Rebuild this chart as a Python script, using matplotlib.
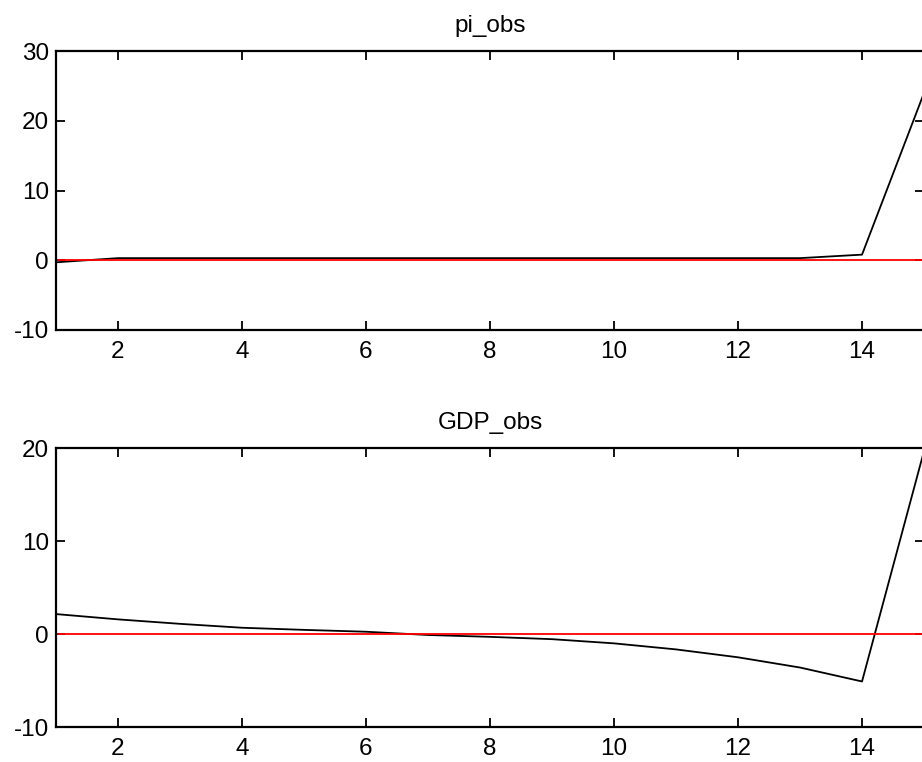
import matplotlib.pyplot as plt

# periods and observed series
periods = list(range(1, 16))
pi_obs = [-0.3, 0.3, 0.3, 0.3, 0.3, 0.3, 0.3, 0.3, 0.3, 0.3, 0.3, 0.3, 0.3, 0.8, 24.0]
gdp_obs = [2.15, 1.58, 1.1, 0.68, 0.45, 0.25, -0.1, -0.3, -0.55, -1.0, -1.65, -2.5, -3.6, -5.1, 19.7]

titles = ['pi_obs', 'GDP_obs']
series = [pi_obs, gdp_obs]
ylims = [(-10, 30), (-10, 20)]
yticks = [[-10, 0, 10, 20, 30], [-10, 0, 10, 20]]
xticks = [2, 4, 6, 8, 10, 12, 14]

plt.rcParams['font.family'] = ['Liberation Sans', 'DejaVu Sans']
plt.rcParams['axes.unicode_minus'] = False

fig = plt.figure(figsize=(9.22, 7.62), dpi=100)
positions = [[0.0607, 0.567, 0.9415, 0.366], [0.0607, 0.0459, 0.9415, 0.366]]

for pos, title, ys, yl, yt in zip(positions, titles, series, ylims, yticks):
    ax = fig.add_axes(pos)
    ax.plot(periods, ys, color='black', linewidth=1.3)
    ax.plot(periods, [0] * len(periods), color='red', linewidth=1.3)
    ax.set_xlim(1, 15)
    ax.set_ylim(*yl)
    ax.set_xticks(xticks)
    ax.set_yticks(yt)
    ax.set_title(title, fontsize=17.5, pad=14)
    ax.tick_params(direction='in', length=6.5, width=1.3, labelsize=17.5,
                   top=True, right=True)
    ax.tick_params(axis='x', pad=8)
    ax.tick_params(axis='y', pad=5)
    for s in ax.spines.values():
        s.set_linewidth(1.6)

plt.savefig('out.png', dpi=100)
